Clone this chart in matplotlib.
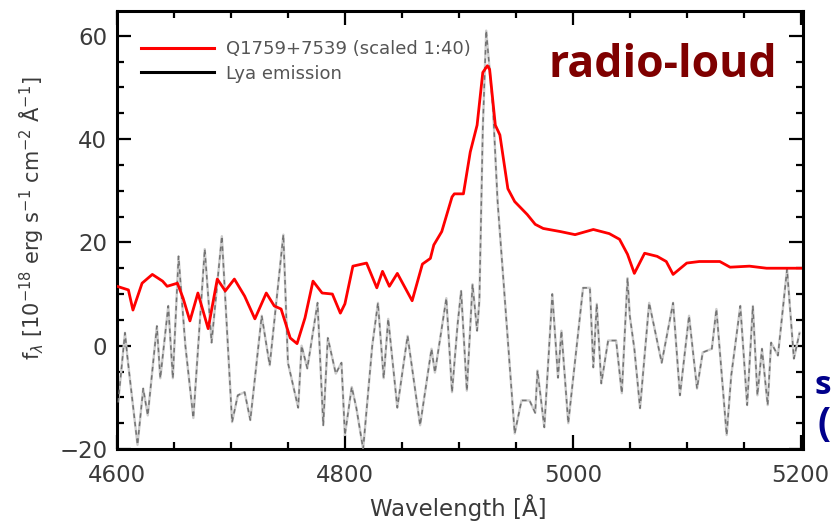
import matplotlib
matplotlib.use("Agg")
import matplotlib.pyplot as plt
from matplotlib.lines import Line2D
from matplotlib.ticker import MultipleLocator

# ---- data ----
red_wl = [4600, 4610, 4614, 4622, 4631, 4640, 4644, 4653, 4658, 4664, 4671, 4680,
          4688, 4695, 4703, 4712, 4721, 4731, 4738, 4744, 4752, 4758, 4765, 4772,
          4780, 4789, 4796, 4800, 4807, 4819, 4828, 4833, 4839, 4846, 4859, 4868,
          4875, 4878, 4885, 4894, 4896, 4904, 4910, 4916, 4921, 4925, 4927, 4932,
          4936, 4943, 4949, 4960, 4967, 4974, 4989, 5002, 5018, 5032, 5041, 5048,
          5054, 5063, 5074, 5082, 5088, 5100, 5111, 5129, 5138, 5155, 5170, 5200]
red_fl = [11.5, 10.8, 6.9, 12.1, 13.8, 12.5, 11.5, 12.1, 9.2, 4.8, 10.2, 3.3,
          12.9, 10.6, 12.9, 9.6, 5.2, 10.2, 7.7, 7.1, 1.5, 0.4, 5.4, 12.5,
          10.2, 10.0, 6.3, 8.1, 15.4, 16.0, 11.2, 14.4, 11.5, 14.0, 8.7, 15.8,
          16.9, 19.5, 22.1, 28.8, 29.4, 29.4, 37.5, 42.7, 52.9, 54.2, 53.5, 42.7,
          40.8, 30.4, 27.9, 25.4, 23.5, 22.7, 22.1, 21.5, 22.5, 21.7, 20.6, 17.7,
          14.0, 17.9, 17.3, 16.3, 13.8, 16.0, 16.3, 16.3, 15.2, 15.4, 15.0, 15.0]

lya_wl = [4601, 4607, 4609, 4611, 4618, 4623, 4627, 4635, 4638, 4645, 4649, 4654,
          4660, 4667, 4677, 4683, 4692, 4701, 4706, 4712, 4717, 4727, 4734, 4746,
          4750, 4759, 4762, 4767, 4776, 4781, 4785, 4792, 4797, 4800, 4806, 4810,
          4816, 4824, 4829, 4834, 4838, 4846, 4855, 4866, 4876, 4879, 4889, 4894,
          4899, 4902, 4907, 4912, 4916, 4918, 4921, 4924, 4930, 4934, 4940, 4949,
          4955, 4962, 4967, 4969, 4975, 4982, 4987, 4990, 4996, 5009, 5015, 5018,
          5021, 5025, 5031, 5038, 5043, 5048, 5050, 5054, 5059, 5067, 5078, 5088,
          5094, 5102, 5109, 5114, 5122, 5126, 5135, 5139, 5147, 5153, 5158, 5162,
          5166, 5171, 5174, 5180, 5188, 5194, 5199]
lya_fl = [-11, 2.5, -1.9, -5.8, -19.2, -8.3, -13.5, 3.8, -6.3, 7.7, -6.3, 17.3,
          0, -14, 18.7, 0.6, 21.2, -14.8, -9.6, -9, -14.4, 5.8, -3.8, 21.5,
          -3.3, -12, 0, -4.4, 8.3, -15.4, 1.5, -5.4, -3.3, -17.3, -8, -12,
          -20, 0, 8.3, -6.3, 5.2, -12, 1.9, -15.4, -0.6, -5.2, 9.2, -9,
          4.4, 10.6, -8.7, 11.9, 2.9, 8.7, 42, 61, 45.8, 27.9, 10, -17,
          -10.6, -10.6, -13, -4.8, -15.8, 10, -6.2, 2.9, -15, 11.2, 11.2, -4.2,
          8.1, -7.3, 1, 1, -9.2, 13.1, 5.8, -0.6, -12.1, 8.3, -3.3, 8.3,
          -9.6, 5.8, -8.3, -1.3, -0.6, 7.1, -17.3, -5.8, 7.7, -11.5, 7.7, -9.6,
          -0.6, -11.5, 0.6, -1.9, 14.8, -2.5, 2.5]

legend_labels = ["Q1759+7539 (scaled 1:40)", "Lya emission"]
x_ticks = [4600, 4800, 5000, 5200]
y_ticks = [-20, 0, 20, 40, 60]

# ---- figure ----
fig = plt.figure(figsize=(8.32, 5.23), dpi=100)
ax = fig.add_axes([117 / 832, 1 - 449 / 523, (803 - 117) / 832, (449 - 11) / 523])

ax.plot(lya_wl, lya_fl, color="0.8", lw=1.7, zorder=2)
ax.plot(lya_wl, lya_fl, color="0.45", lw=1.1, ls=(0, (3, 2.5)), zorder=3)
ax.plot(red_wl, red_fl, color="#ff0000", lw=2.0, zorder=4)

ax.set_xlim(4600, 5202)
ax.set_ylim(-20, 64.8)
ax.set_xticks(x_ticks)
ax.set_yticks(y_ticks)
ax.xaxis.set_minor_locator(MultipleLocator(50))
ax.yaxis.set_minor_locator(MultipleLocator(5))
ax.tick_params(which="both", direction="in", top=True, right=True, width=1.6,
               colors="black", labelcolor="#3a3a3a", labelsize=16.5)
ax.tick_params(which="major", length=10)
ax.tick_params(which="minor", length=5)
ax.tick_params(axis="x", pad=11)
ax.tick_params(axis="y", pad=7)
for s in ax.spines.values():
    s.set_linewidth(2.2)

handles = [Line2D([], [], color="#ff0000", lw=2.2),
           Line2D([], [], color="black", lw=2.2)]
leg = ax.legend(handles, legend_labels, loc="upper left", frameon=False,
                bbox_to_anchor=(0.012, 0.97), handlelength=4.0, handletextpad=0.7,
                labelspacing=0.35, prop={"size": 13})
for t in leg.get_texts():
    t.set_color("#555555")

ax.text(0.962, 0.928, "radio-loud", transform=ax.transAxes, ha="right", va="top",
        fontsize=32, fontweight="bold", family="Open Sans", color="#7f0000")

fig.text(458 / 832, 1 - 494 / 523, "Wavelength [Å]", ha="center", va="top",
         fontsize=16.5, color="#3a3a3a")
fig.text(32 / 832, 1 - 218 / 523,
         r"f$_\lambda$ [10$^{-18}$ erg s$^{-1}$ cm$^{-2}$ Å$^{-1}$]",
         rotation=90, ha="center", va="center", fontsize=15, color="#3a3a3a")

fig.text(831 / 832, 1 - 385 / 523, "s", ha="right", va="center", fontsize=24,
         fontweight="bold", family="Open Sans", color="#00008b")
fig.text(831 / 832, 1 - 424 / 523, "(", ha="right", va="center", fontsize=28,
         fontweight="bold", family="Open Sans", color="#00008b")

fig.savefig("out.png", dpi=100)
